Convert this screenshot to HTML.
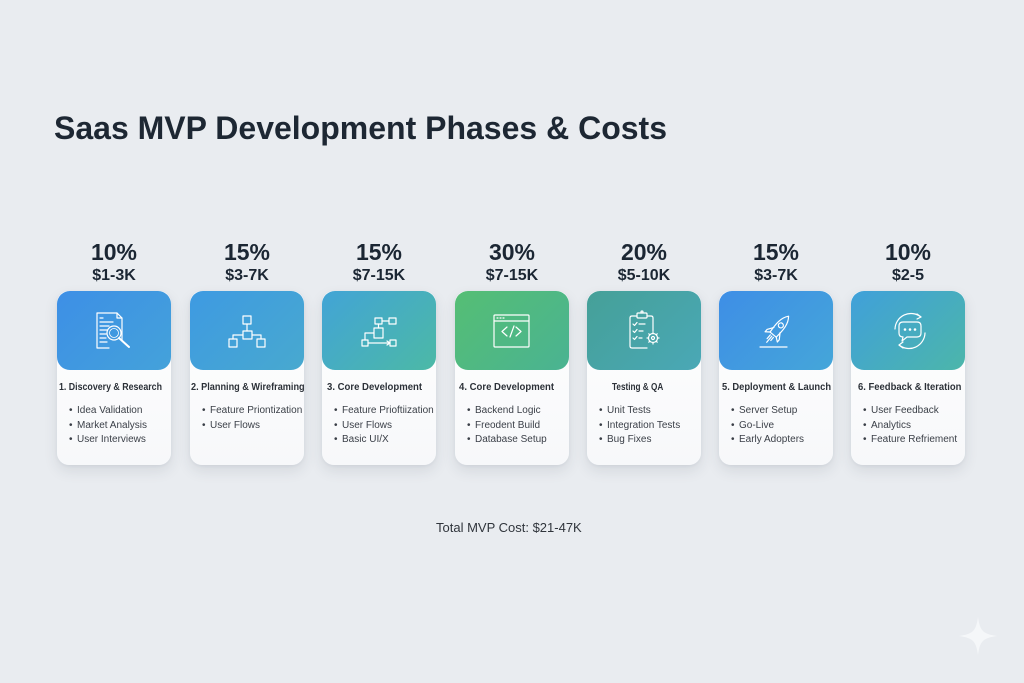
<!DOCTYPE html>
<html><head><meta charset="utf-8">
<style>
*{margin:0;padding:0;box-sizing:border-box}
html,body{width:1024px;height:683px;overflow:hidden}
body{background:#e9ecf0;font-family:"Liberation Sans",Arial,sans-serif;position:relative}
.title{position:absolute;left:54px;top:112px;font-size:32px;line-height:32px;font-weight:bold;color:#1d2733;white-space:nowrap}
.pct{position:absolute;width:114px;text-align:center;top:241px;font-size:23px;line-height:23px;font-weight:bold;color:#1b2633}
.cost{position:absolute;width:114px;text-align:center;top:268px;font-size:16px;line-height:16px;font-weight:bold;color:#1b2633}
.card{position:absolute;top:291px;width:114px;height:174px;border-radius:12px;background:linear-gradient(180deg,#ffffff 0%,#f7f8fa 100%);box-shadow:0 6px 14px rgba(40,50,70,0.10),0 1px 3px rgba(40,50,70,0.06)}
.grad{position:absolute;left:0;top:0;width:114px;height:79px;border-radius:13px}
.grad svg{position:absolute;left:0;top:0}
.h{position:absolute;top:91px;font-size:10.5px;line-height:10.5px;font-weight:bold;color:#2c3138;white-space:nowrap;transform-origin:0 0}
.ul{position:absolute;top:113px;left:0;width:114px}
.li{position:relative;height:14.6px;line-height:14.6px;font-size:10px;color:#3a3f47;white-space:nowrap}
.li b{position:absolute;left:12px;top:0;font-weight:normal}
.li span{position:absolute;left:20px;top:0}
.total{position:absolute;left:436px;top:521px;font-size:13px;line-height:13px;color:#30353c;white-space:nowrap}
</style></head><body>

<div class="title">Saas MVP Development Phases &amp; Costs</div>

<div class="pct" style="left:57px">10%</div><div class="cost" style="left:57px">$1-3K</div>
<div class="pct" style="left:190px">15%</div><div class="cost" style="left:190px">$3-7K</div>
<div class="pct" style="left:322px">15%</div><div class="cost" style="left:322px">$7-15K</div>
<div class="pct" style="left:455px">30%</div><div class="cost" style="left:455px">$7-15K</div>
<div class="pct" style="left:587px">20%</div><div class="cost" style="left:587px">$5-10K</div>
<div class="pct" style="left:719px">15%</div><div class="cost" style="left:719px">$3-7K</div>
<div class="pct" style="left:851px">10%</div><div class="cost" style="left:851px">$2-5</div>

<!-- Card 1 -->
<div class="card" style="left:57px">
  <div class="grad" style="background:linear-gradient(135deg,#3d8fe6 0%,#44a2da 100%)">
    <svg width="114" height="79" viewBox="0 0 114 79" fill="none" stroke="#fff" stroke-width="1.2" stroke-linecap="round" stroke-linejoin="round">
      <path d="M40 22 H60 L65 27 V50 M40 22 V57 H52"/>
      <path d="M60 22 V27 H65"/>
      <path d="M43 27 H46 M43 31 H56 M43 35 H52 M43 39 H50 M43 43 H49 M43 47 H49 M43 51 H50"/>
      <circle cx="57" cy="42" r="7"/>
      <circle cx="57" cy="42" r="4.5" stroke-width="0.8"/>
      <path d="M62 47 L72 56" stroke-width="2"/>
    </svg>
  </div>
  <div class="h" style="left:2px;transform:scaleX(0.84)">1. Discovery &amp; Research</div>
  <div class="ul">
    <div class="li"><b>•</b><span>Idea Validation</span></div>
    <div class="li"><b>•</b><span>Market Analysis</span></div>
    <div class="li"><b>•</b><span>User Interviews</span></div>
  </div>
</div>

<!-- Card 2 -->
<div class="card" style="left:190px">
  <div class="grad" style="background:linear-gradient(135deg,#3e9ae2 0%,#48a9cf 100%)">
    <svg width="114" height="79" viewBox="0 0 114 79" fill="none" stroke="#fff" stroke-width="1.2" stroke-linecap="round" stroke-linejoin="round">
      <rect x="53" y="25" width="8" height="8"/>
      <rect x="53" y="40" width="9" height="8"/>
      <rect x="39" y="48" width="8" height="8"/>
      <rect x="67" y="48" width="8" height="8"/>
      <path d="M57 33 V40 M53 44 H43 V48 M62 44 H71 V48"/>
    </svg>
  </div>
  <div class="h" style="left:1px;transform:scaleX(0.87)">2. Planning &amp; Wireframing</div>
  <div class="ul">
    <div class="li"><b>•</b><span>Feature Priontization</span></div>
    <div class="li"><b>•</b><span>User Flows</span></div>
  </div>
</div>

<!-- Card 3 -->
<div class="card" style="left:322px">
  <div class="grad" style="background:linear-gradient(135deg,#42a4d6 0%,#4cb9a6 100%)">
    <svg width="114" height="79" viewBox="0 0 114 79" fill="none" stroke="#fff" stroke-width="1.2" stroke-linecap="round" stroke-linejoin="round">
      <rect x="53" y="27" width="7" height="6"/>
      <rect x="67" y="27" width="7" height="6"/>
      <rect x="52" y="37" width="9" height="10"/>
      <rect x="40" y="49" width="6" height="6"/>
      <rect x="68" y="49" width="6" height="6"/>
      <path d="M60 30 H67 M56.5 33 V37 M52 42 H43 V49 M46 52 H68 M65 50 L68 52 L65 54"/>
    </svg>
  </div>
  <div class="h" style="left:5px;transform:scaleX(0.91)">3. Core Development</div>
  <div class="ul">
    <div class="li"><b>•</b><span>Feature Prioftiization</span></div>
    <div class="li"><b>•</b><span>User Flows</span></div>
    <div class="li"><b>•</b><span>Basic UI/X</span></div>
  </div>
</div>

<!-- Card 4 -->
<div class="card" style="left:455px">
  <div class="grad" style="background:linear-gradient(135deg,#55be74 0%,#4ab392 100%)">
    <svg width="114" height="79" viewBox="0 0 114 79" fill="none" stroke="#fff" stroke-width="1.2" stroke-linecap="round" stroke-linejoin="round">
      <rect x="39" y="24" width="35" height="32" rx="1"/>
      <path d="M39 30 H74"/>
      <path d="M42 27 H43 M45 27 H46 M48 27 H49"/>
      <path d="M52 36 L47 40.5 L52 45 M61 36 L66 40.5 L61 45 M59 35 L55 46"/>
    </svg>
  </div>
  <div class="h" style="left:4px;transform:scaleX(0.91)">4. Core Development</div>
  <div class="ul">
    <div class="li"><b>•</b><span>Backend Logic</span></div>
    <div class="li"><b>•</b><span>Freodent Build</span></div>
    <div class="li"><b>•</b><span>Database Setup</span></div>
  </div>
</div>

<!-- Card 5 -->
<div class="card" style="left:587px">
  <div class="grad" style="background:linear-gradient(135deg,#45a098 0%,#4aa8b6 100%)">
    <svg width="114" height="79" viewBox="0 0 114 79" fill="none" stroke="#fff" stroke-width="1.2" stroke-linecap="round" stroke-linejoin="round">
      <path d="M60 57 H45 Q43 57 43 55 V27 Q43 25 45 25 H50 M60 25 H64 Q66 25 66 27 V40"/>
      <rect x="50" y="22" width="10" height="5" rx="1"/>
      <circle cx="55" cy="21" r="1"/>
      <path d="M46 33 L47.5 34.5 L50 31.5 M52 33 H58"/>
      <path d="M46 40 L47.5 41.5 L50 38.5 M52 40 H56"/>
      <path d="M46 47 L47.5 48.5 L50 45.5 M52 47 H55"/>
      <circle cx="66" cy="47" r="4.5"/>
      <circle cx="66" cy="47" r="1.5"/>
      <path d="M66 41 V42.5 M66 51.5 V53 M60 47 H61.5 M70.5 47 H72 M61.8 42.8 L62.8 43.8 M69.2 50.2 L70.2 51.2 M70.2 42.8 L69.2 43.8 M62.8 50.2 L61.8 51.2"/>
    </svg>
  </div>
  <div class="h" style="left:25px;transform:scaleX(0.78)">Testing &amp; QA</div>
  <div class="ul">
    <div class="li"><b>•</b><span>Unit Tests</span></div>
    <div class="li"><b>•</b><span>Integration Tests</span></div>
    <div class="li"><b>•</b><span>Bug Fixes</span></div>
  </div>
</div>

<!-- Card 6 -->
<div class="card" style="left:719px">
  <div class="grad" style="background:linear-gradient(135deg,#3e8ee6 0%,#45a6d9 100%)">
    <svg width="114" height="79" viewBox="0 0 114 79" fill="none" stroke="#fff" stroke-width="1.2" stroke-linecap="round" stroke-linejoin="round">
      <g transform="translate(58 39) rotate(40)">
        <path d="M0 -18 C5 -12 5 -4 4 6 H-4 C-5 -4 -5 -12 0 -18 Z"/>
        <circle cx="0" cy="-6" r="2.5"/>
        <path d="M-4 0 L-8 6 L-8 9 L-4 6 M4 0 L8 6 L8 9 L4 6"/>
        <path d="M-2 8 L-2 13 M0 8 L0 16 M2 8 L2 12"/>
      </g>
      <path d="M41 56 H68"/>
    </svg>
  </div>
  <div class="h" style="left:3px;transform:scaleX(0.89)">5. Deployment &amp; Launch</div>
  <div class="ul">
    <div class="li"><b>•</b><span>Server Setup</span></div>
    <div class="li"><b>•</b><span>Go-Live</span></div>
    <div class="li"><b>•</b><span>Early Adopters</span></div>
  </div>
</div>

<!-- Card 7 -->
<div class="card" style="left:851px">
  <div class="grad" style="background:linear-gradient(135deg,#40a0da 0%,#4cb6aa 100%)">
    <svg width="114" height="79" viewBox="0 0 114 79" fill="none" stroke="#fff" stroke-width="1.2" stroke-linecap="round" stroke-linejoin="round">
      <path d="M52 31 H66 Q70 31 70 35 V42 Q70 46 66 46 H56 L51 50 L52 46 Q48 46 48 42 V35 Q48 31 52 31 Z"/>
      <circle cx="54" cy="38.5" r="0.7" fill="#fff"/>
      <circle cx="59" cy="38.5" r="0.7" fill="#fff"/>
      <circle cx="64" cy="38.5" r="0.7" fill="#fff"/>
      <path d="M44 38 A16 16 0 0 1 70 26"/>
      <path d="M66 23 L70 26 L66 28"/>
      <path d="M74 42 A16 16 0 0 1 48 54"/>
      <path d="M52 51 L48 54 L52 57"/>
    </svg>
  </div>
  <div class="h" style="left:7px;transform:scaleX(0.9)">6. Feedback &amp; Iteration</div>
  <div class="ul">
    <div class="li"><b>•</b><span>User Feedback</span></div>
    <div class="li"><b>•</b><span>Analytics</span></div>
    <div class="li"><b>•</b><span>Feature Refriement</span></div>
  </div>
</div>

<div class="total">Total MVP Cost: $21-47K</div>

<svg style="position:absolute;left:959px;top:617px" width="38" height="38" viewBox="-19 -19 38 38">
  <path d="M0 -19 C2 -5 5 -2 19 0 C5 2 2 5 0 19 C-2 5 -5 2 -19 0 C-5 -2 -2 -5 0 -19 Z" fill="#f5f7f9"/>
</svg>

</body></html>
